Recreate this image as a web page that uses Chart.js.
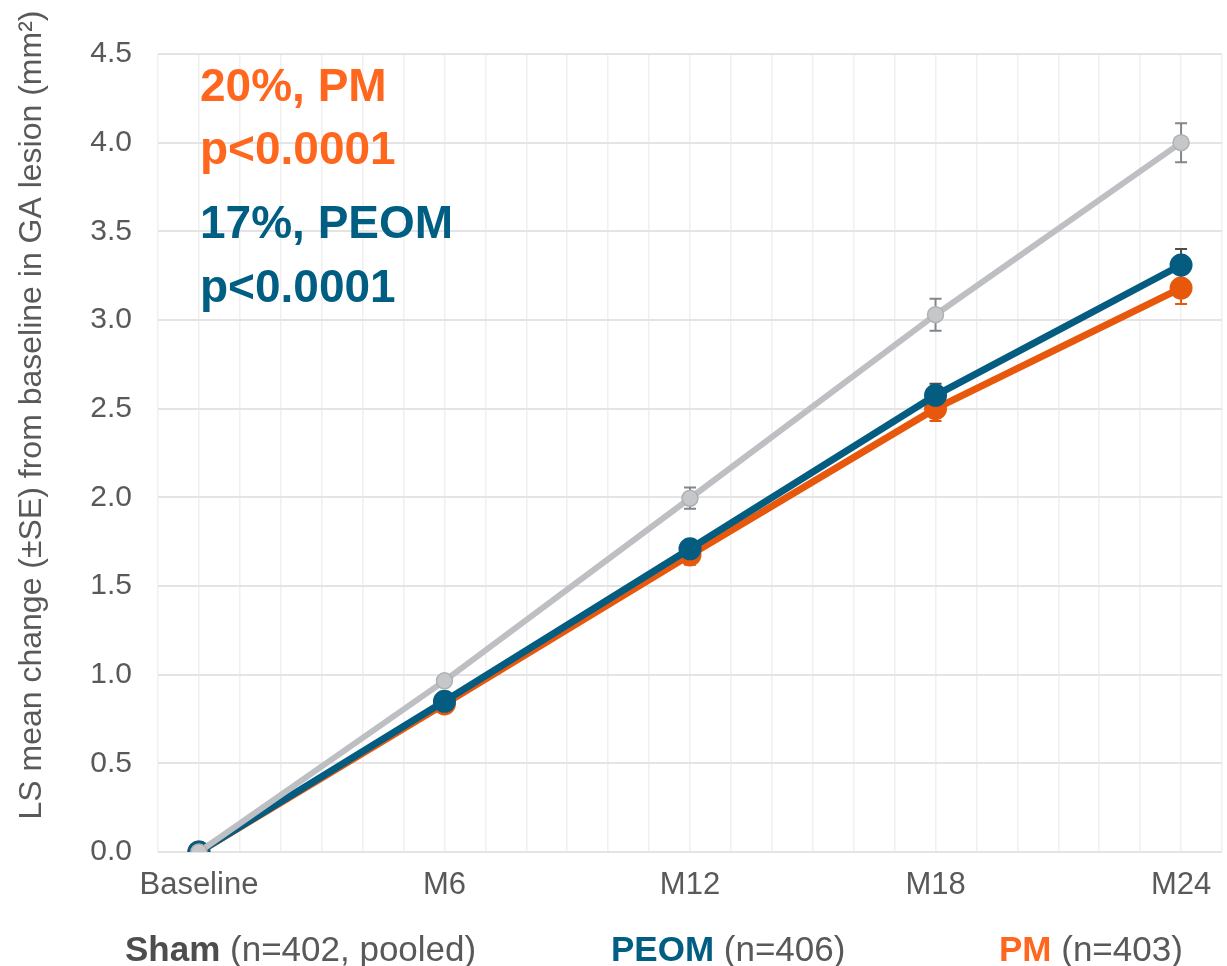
<!DOCTYPE html>
<html lang="en">
<head>
<meta charset="UTF-8">
<title>GA lesion</title>
<script src="https://cdn.jsdelivr.net/npm/chart.js@4.4.0/dist/chart.umd.min.js"></script>
<style>
    body { margin: 0; background: #ffffff; }
    #wrap { width: 1227px; height: 966px; }
</style>
</head>
<body>
<div id="wrap"><canvas id="grafico"></canvas></div>

<script>
    // visitas (meses) e rótulos do eixo x
    var meses = [0, 6, 12, 18, 24];
    var rotulos = ['Baseline', 'M6', 'M12', 'M18', 'M24'];

    // LS mean change e SE por grupo
    var sham = [0, 0.965, 1.995, 3.03, 4.0];
    var shamSE = [0, 0.02, 0.06, 0.09, 0.11];
    var peom = [0, 0.85, 1.71, 2.575, 3.31];
    var peomSE = [0, 0.02, 0.045, 0.065, 0.09];
    var pm = [0, 0.835, 1.675, 2.50, 3.18];
    var pmSE = [0, 0.02, 0.055, 0.07, 0.09];

    var yMin = 0, yMax = 4.5, yPasso = 0.5;
    var tituloY = 'LS mean change (±SE) from baseline in GA lesion (mm²)';

    var fonte = '"Liberation Sans", Arial, sans-serif';
    var cinza = '#595959';
    var laranja = '#FF671F';
    var azul = '#005E82';

    function pontos(valores) {
        return meses.map(function (m, i) { return { x: m, y: valores[i] }; });
    }

    // barras de erro desenhadas com as escalas do próprio gráfico
    var barrasErro = {
        id: 'barrasErro',
        beforeDatasetsDraw: function (chart) {
            var ctx = chart.ctx;
            var xs = chart.scales.x, ys = chart.scales.y;
            var ordem = [2, 1, 0];
            ordem.forEach(function (d) {
                var ds = chart.data.datasets[d];
                ctx.save();
                ctx.strokeStyle = ds.corBarra;
                ctx.lineWidth = 2;
                meses.forEach(function (m, i) {
                    if (!ds.se[i]) return;
                    var v = ds.data[i].y;
                    var x = xs.getPixelForValue(m);
                    var yA = ys.getPixelForValue(v + ds.se[i]);
                    var yB = ys.getPixelForValue(v - ds.se[i]);
                    ctx.beginPath();
                    ctx.moveTo(x, yA); ctx.lineTo(x, yB);
                    ctx.moveTo(x - 6, yA); ctx.lineTo(x + 6, yA);
                    ctx.moveTo(x - 6, yB); ctx.lineTo(x + 6, yB);
                    ctx.stroke();
                });
                ctx.restore();
            });
        }
    };

    // textos: título do eixo y, anotações e legenda de baixo
    var textos = {
        id: 'textos',
        afterDraw: function (chart) {
            var ctx = chart.ctx;
            ctx.save();

            ctx.save();
            ctx.translate(32, 415);
            ctx.rotate(-Math.PI / 2);
            ctx.textAlign = 'center';
            ctx.textBaseline = 'middle';
            ctx.font = '32px ' + fonte;
            ctx.fillStyle = cinza;
            ctx.fillText(tituloY, 0, 0);
            ctx.restore();

            ctx.textBaseline = 'alphabetic';
            ctx.textAlign = 'left';

            ctx.font = 'bold 46px ' + fonte;
            ctx.fillStyle = laranja;
            ctx.fillText('20%, PM', 200, 101);
            ctx.fillText('p<0.0001', 200, 164);
            ctx.fillStyle = azul;
            ctx.fillText('17%, PEOM', 200, 238);
            ctx.fillText('p<0.0001', 200, 302);

            var itens = [
                { x: 125, nome: 'Sham', cor: '#4D4D4D', resto: ' (n=402, pooled)' },
                { x: 611, nome: 'PEOM', cor: azul, resto: ' (n=406)' },
                { x: 999, nome: 'PM', cor: laranja, resto: ' (n=403)' }
            ];
            itens.forEach(function (it) {
                ctx.font = 'bold 35px ' + fonte;
                ctx.fillStyle = it.cor;
                ctx.fillText(it.nome, it.x, 961);
                var w = ctx.measureText(it.nome).width;
                ctx.font = '35px ' + fonte;
                ctx.fillStyle = cinza;
                ctx.fillText(it.resto, it.x + w, 961);
            });
            ctx.restore();
        }
    };

    var ctx = document.getElementById('grafico').getContext('2d');
    var grafico = new Chart(ctx, {
        type: 'line',
        data: {
            datasets: [
                {
                    label: 'Sham',
                    data: pontos(sham),
                    se: shamSE,
                    corBarra: '#83868B',
                    borderColor: '#BDBFC3',
                    backgroundColor: '#C6C7C9',
                    pointBorderColor: '#AEB0B4',
                    pointBorderWidth: 1.5,
                    borderWidth: 6,
                    pointRadius: 8,
                    order: 0
                },
                {
                    label: 'PEOM',
                    data: pontos(peom),
                    se: peomSE,
                    corBarra: '#4D4D4D',
                    borderColor: '#045D80',
                    backgroundColor: '#045D80',
                    pointBorderColor: '#045D80',
                    borderWidth: 7,
                    pointRadius: 8,
                    order: 1
                },
                {
                    label: 'PM',
                    data: pontos(pm),
                    se: pmSE,
                    corBarra: '#E8580C',
                    borderColor: '#E8580C',
                    backgroundColor: '#E8580C',
                    pointBorderColor: '#E8580C',
                    borderWidth: 7,
                    pointRadius: 8,
                    order: 2
                }
            ]
        },
        options: {
            responsive: true,
            maintainAspectRatio: false,
            animation: false,
            layout: { autoPadding: false, padding: { top: 54, right: 5, left: 0, bottom: 0 } },
            plugins: {
                legend: { display: false },
                tooltip: { enabled: false }
            },
            scales: {
                x: {
                    type: 'linear',
                    min: -1,
                    max: 25,
                    afterFit: function (s) { s.height = 114; },
                    border: { display: false },
                    grid: { color: '#F0F0F0', lineWidth: 1.5, drawTicks: false },
                    ticks: {
                        stepSize: 1,
                        autoSkip: false,
                        maxRotation: 0,
                        padding: 0,
                        color: cinza,
                        font: { family: fonte, size: 31, lineHeight: 2.15 },
                        callback: function (v) {
                            var i = meses.indexOf(v);
                            return i >= 0 ? rotulos[i] : '';
                        }
                    }
                },
                y: {
                    min: yMin,
                    max: yMax,
                    afterFit: function (s) { s.width = 158; },
                    border: { display: false },
                    grid: { color: '#E4E4E4', lineWidth: 2, drawTicks: false },
                    ticks: {
                        stepSize: yPasso,
                        padding: 26,
                        color: cinza,
                        font: { family: fonte, size: 30 },
                        callback: function (v) { return v.toFixed(1); }
                    }
                }
            }
        },
        plugins: [barrasErro, textos]
    });
</script>
</body>
</html>
